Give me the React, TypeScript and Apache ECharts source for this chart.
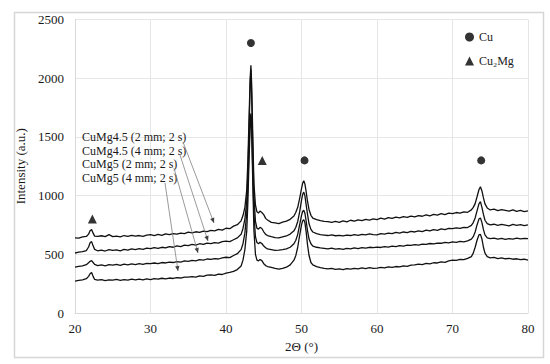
import React, { useEffect, useRef } from "react";
import * as echarts from "echarts";

const twoTheta = [
  20, 20.5, 21, 21.5, 21.8, 22, 22.2, 22.4, 22.6, 23,
  23.5, 24, 24.5, 25, 25.5, 26, 26.5, 27, 27.5, 28,
  28.5, 29, 29.5, 30, 30.5, 31, 31.5, 32, 32.5, 33,
  33.5, 34, 34.5, 35, 35.5, 36, 36.5, 37, 37.5, 38,
  38.5, 39, 39.5, 40, 40.5, 41, 41.5, 42, 42.25, 42.5,
  42.75, 42.9, 43.05, 43.2, 43.3, 43.4, 43.55, 43.7, 43.9, 44.1,
  44.3, 44.5, 44.75, 45, 45.25, 45.5, 46, 46.5, 47, 47.5,
  48, 48.5, 49, 49.25, 49.5, 49.75, 50, 50.15, 50.3, 50.45,
  50.6, 50.8, 51, 51.25, 51.5, 52, 52.5, 53, 53.5, 54,
  54.5, 55, 55.5, 56, 56.5, 57, 57.5, 58, 58.5, 59,
  59.5, 60, 60.5, 61, 61.5, 62, 62.5, 63, 63.5, 64,
  64.5, 65, 65.5, 66, 66.5, 67, 67.5, 68, 68.5, 69,
  69.5, 70, 70.5, 71, 71.5, 72, 72.5, 72.75, 73, 73.25,
  73.5, 73.7, 73.9, 74.1, 74.3, 74.6, 75, 75.5, 76, 76.5,
  77, 77.5, 78, 78.5, 79, 79.5, 80,
];

const cuMg45_2mm = [
  640, 638, 648, 652, 672, 700, 712, 680, 655, 652,
  658, 650, 668, 650, 655, 648, 660, 652, 662, 655,
  660, 652, 664, 668, 660, 670, 662, 674, 668, 676,
  672, 680, 676, 688, 682, 692, 686, 698, 694, 704,
  700, 712, 706, 722, 718, 740, 752, 785, 830, 900,
  1050, 1300, 1650, 2000, 2110, 1950, 1500, 1100, 920, 862,
  852, 868, 856, 838, 806, 792, 772, 768, 762, 774,
  782, 798, 826, 858, 900, 975, 1060, 1105, 1127, 1100,
  1040, 950, 880, 832, 808, 796, 786, 780, 778, 772,
  780, 772, 784, 776, 790, 782, 794, 786, 798, 792,
  802, 796, 808, 800, 812, 806, 816, 810, 820, 814,
  826, 818, 830, 824, 836, 828, 840, 834, 846, 838,
  850, 846, 856, 850, 862, 858, 878, 900, 932, 990,
  1050, 1075, 1040, 980, 930, 895, 878, 884, 872, 880,
  874, 868, 878, 866, 874, 864, 870,
];

const cuMg45_4mm = [
  511, 518, 522, 532, 562, 598, 608, 572, 542, 530,
  536, 528, 540, 534, 538, 530, 542, 536, 546, 540,
  548, 542, 552, 548, 556, 550, 560, 554, 566, 560,
  572, 566, 578, 574, 584, 578, 590, 584, 596, 590,
  600, 596, 608, 612, 608, 624, 640, 670, 720, 800,
  950, 1200, 1550, 1950, 2070, 1850, 1400, 1000, 780, 722,
  714, 730, 720, 692, 670, 660, 650, 642, 640, 648,
  656, 672, 700, 730, 780, 860, 960, 1010, 1030, 1000,
  930, 840, 760, 712, 690, 676, 668, 664, 660, 666,
  658, 662, 656, 664, 660, 668, 662, 670, 666, 674,
  668, 665, 676, 672, 680, 676, 686, 680, 690, 684,
  696, 690, 700, 694, 706, 700, 710, 704, 716, 710,
  720, 718, 726, 720, 730, 728, 746, 770, 810, 870,
  930, 948, 900, 840, 790, 762, 750, 756, 746, 754,
  748, 742, 754, 746, 752, 744, 750,
];

const cuMg5_2mm = [
  390, 398, 402, 412, 428, 440, 446, 430, 414, 404,
  410, 402, 412, 408, 414, 406, 416, 410, 418, 412,
  420, 414, 422, 420, 426, 420, 430, 426, 434, 430,
  438, 434, 444, 440, 448, 444, 454, 450, 460, 456,
  464, 460, 470, 475, 472, 490, 505, 540, 590, 680,
  850, 1100, 1400, 1650, 1700, 1600, 1200, 850, 650, 600,
  590, 602, 592, 570, 556, 546, 540, 534, 536, 540,
  546, 560, 590, 620, 670, 750, 830, 865, 875, 850,
  790, 700, 630, 590, 570, 560, 554, 550, 546, 552,
  544, 548, 542, 550, 546, 554, 548, 556, 552, 560,
  556, 562, 558, 566, 562, 570, 566, 574, 570, 578,
  576, 582, 578, 586, 584, 592, 588, 596, 594, 602,
  598, 605, 602, 610, 606, 615, 630, 650, 690, 750,
  800, 810, 770, 710, 665, 640, 633, 638, 630, 636,
  628, 634, 630, 638, 632, 636, 633,
];

const cuMg5_4mm = [
  272, 278, 282, 292, 312, 334, 345, 312, 286, 280,
  284, 276, 282, 280, 286, 278, 284, 280, 288, 282,
  288, 282, 290, 285, 292, 288, 296, 290, 298, 294,
  302, 298, 306, 305, 310, 306, 316, 312, 322, 325,
  320, 332, 328, 340, 346, 355, 370, 400, 450, 540,
  700, 950, 1300, 1600, 1680, 1550, 1100, 700, 500, 450,
  444, 456, 446, 420, 404, 396, 388, 380, 374, 380,
  390, 410, 450, 490, 560, 660, 750, 785, 795, 770,
  700, 580, 490, 430, 410, 395, 386, 380, 376, 380,
  372, 375, 370, 378, 374, 380, 376, 384, 378, 386,
  380, 383, 388, 384, 392, 388, 396, 392, 402, 398,
  408, 410, 416, 412, 422, 418, 428, 426, 436, 432,
  444, 451, 448, 456, 454, 465, 480, 510, 560, 620,
  665, 670, 630, 560, 510, 480, 470, 474, 464, 470,
  462, 466, 458, 462, 454, 458, 451,
];

const cuPeaks = [[43.3, 2300], [50.4, 1300], [73.8, 1300]];
const cu2MgPeaks = [[22.3, 800], [44.8, 1300]];

const seriesNames = [
  "CuMg4.5 (2 mm; 2 s)",
  "CuMg4.5 (4 mm; 2 s)",
  "CuMg5 (2 mm; 2 s)",
  "CuMg5 (4 mm; 2 s)",
];
const seriesValues = [cuMg45_2mm, cuMg45_4mm, cuMg5_2mm, cuMg5_4mm];

const FONT = "Liberation Serif";

// annotation label arrows (pixel positions on canvas)
const arrows = [
  [183, 142, 214, 223],
  [180, 155, 208, 241],
  [174, 168, 198, 253],
  [165, 183, 178, 271],
];
const labelTop = [131, 144.5, 158, 171.5];

function arrowHead(x1: number, y1: number, x2: number, y2: number) {
  const a = Math.atan2(y2 - y1, x2 - x1);
  const L = 5, W = 2.2;
  const bx = x2 - L * Math.cos(a), by = y2 - L * Math.sin(a);
  return [
    [x2, y2],
    [bx + W * Math.sin(a), by - W * Math.cos(a)],
    [bx - W * Math.sin(a), by + W * Math.cos(a)],
  ];
}

export default function App() {
  const ref = useRef<HTMLDivElement>(null);
  useEffect(() => {
    if (!ref.current) return;
    const chart = echarts.init(ref.current, undefined, { renderer: "svg" });
    const graphics: any[] = [
      {
        type: "rect",
        left: 12, top: 10,
        shape: { x: 0, y: 0, width: 529, height: 345 },
        style: { fill: "none", stroke: "#d6d6d6", lineWidth: 1.5 },
        z: -1,
      },
    ];
    seriesNames.forEach((n, i) => {
      graphics.push({
        type: "text",
        x: 82, y: labelTop[i],
        style: { text: n, fontFamily: FONT, fontSize: 12, fill: "#1a1a1a" },
        z: 10,
      });
    });
    arrows.forEach((a) => {
      graphics.push({
        type: "line",
        shape: { x1: a[0], y1: a[1], x2: a[2], y2: a[3] },
        style: { stroke: "#808080", lineWidth: 0.8 },
        z: 10,
      });
      graphics.push({
        type: "polygon",
        shape: { points: arrowHead(a[0], a[1], a[2], a[3]) },
        style: { fill: "#404040" },
        z: 10,
      });
    });

    chart.setOption({
      animation: false,
      backgroundColor: "#ffffff",
      grid: { left: 75, right: 22, top: 19.5, bottom: 51 },
      legend: {
        orient: "vertical",
        left: 460,
        top: 26,
        itemWidth: 9,
        itemHeight: 9,
        itemGap: 12,
        data: ["Cu", "Cu₂Mg"],
        textStyle: { fontFamily: FONT, fontSize: 12, color: "#1a1a1a" },
      },
      xAxis: {
        type: "value",
        min: 20, max: 80, interval: 10,
        name: "2Θ (°)",
        nameLocation: "middle",
        nameGap: 27,
        nameTextStyle: { fontFamily: FONT, fontSize: 13, color: "#1a1a1a" },
        axisLine: { show: true, lineStyle: { color: "#d9d9d9" } },
        axisTick: { show: false },
        axisLabel: { fontFamily: FONT, fontSize: 13, color: "#1a1a1a", margin: 9, formatter: (v: number) => String(v) },
        splitLine: { show: true, lineStyle: { color: "#e6e6e6" } },
      },
      yAxis: {
        type: "value",
        min: 0, max: 2500, interval: 500,
        name: "Intensity (a.u.)",
        nameLocation: "middle",
        nameGap: 40,
        nameTextStyle: { fontFamily: FONT, fontSize: 13, color: "#1a1a1a" },
        axisLine: { show: true, lineStyle: { color: "#d9d9d9" } },
        axisTick: { show: false },
        axisLabel: { fontFamily: FONT, fontSize: 13, color: "#1a1a1a", margin: 11, formatter: (v: number) => String(v) },
        splitLine: { show: true, lineStyle: { color: "#e6e6e6" } },
      },
      series: [
        ...seriesValues.map((vals, i) => ({
          name: seriesNames[i],
          type: "line",
          data: twoTheta.map((x, j) => [x, vals[j]]),
          showSymbol: false,
          lineStyle: { color: "#111111", width: 1.3 },
          itemStyle: { color: "#111111" },
          z: 3,
        })),
        {
          name: "Cu",
          type: "scatter",
          data: cuPeaks,
          symbol: "circle",
          symbolSize: 8,
          itemStyle: { color: "#000000" },
          z: 4,
        },
        {
          name: "Cu₂Mg",
          type: "scatter",
          data: cu2MgPeaks,
          symbol: "triangle",
          symbolSize: 9,
          itemStyle: { color: "#000000" },
          z: 4,
        },
      ],
      graphic: graphics,
    });
    return () => chart.dispose();
  }, []);
  return (
    <div
      ref={ref}
      style={{ position: "fixed", left: 0, top: 0, width: 550, height: 364 }}
    />
  );
}
